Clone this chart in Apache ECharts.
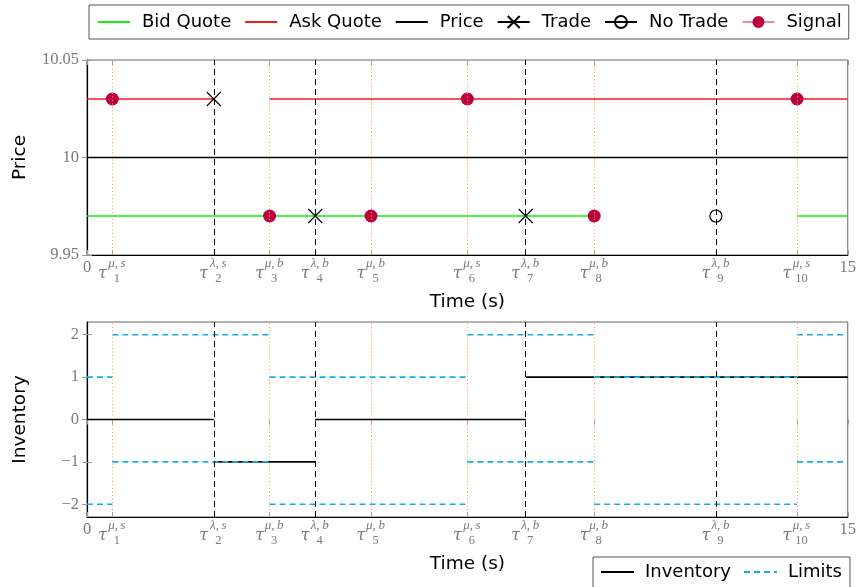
<!DOCTYPE html>
<html>
<head>
<meta charset="utf-8">
<script src="https://cdn.jsdelivr.net/npm/echarts@6/dist/echarts.min.js"></script>
<style>
  html, body { margin: 0; padding: 0; background: #fff; }
  #chart { width: 859px; height: 587px; }
</style>
</head>
<body>
<div id="chart"></div>
<script>
// ---- event times (s) and their kinds ----
const eventTimes = [0.5, 2.5, 3.6, 4.5, 5.6, 7.5, 8.65, 10.0, 12.4, 14.0];
const eventKinds = ['μ,s', 'λ,s', 'μ,b', 'λ,b', 'μ,b', 'μ,s', 'λ,b', 'μ,b', 'λ,b', 'μ,s'];
const timeMin = 0;
const timeMax = 15;

// ---- price panel ----
const priceTicks = [9.95, 10, 10.05];
const bidLevel = 9.97;
const bidSegments = [[0, 10.0], [14.0, 15]];
const askLevel = 10.03;
const askSegments = [[0, 2.5], [3.6, 15]];
const priceLevel = 10;
const priceSegments = [[0, 15]];
const tradePoints = [[2.5, 10.03], [4.5, 9.97], [8.65, 9.97]];
const noTradePoints = [[12.4, 9.97]];
const signalPoints = [[0.5, 10.03], [3.6, 9.97], [5.6, 9.97], [7.5, 10.03], [10.0, 9.97], [14.0, 10.03]];

// ---- inventory panel: [start, end, value] ----
const inventoryTicks = [-2, -1, 0, 1, 2];
const inventorySteps = [[0, 2.5, 0], [2.5, 4.5, -1], [4.5, 8.65, 0], [8.65, 15, 1]];
const upperLimitSteps = [[0, 0.5, 1], [0.5, 3.6, 2], [3.6, 7.5, 1], [7.5, 10, 2], [10, 14, 1], [14, 15, 2]];
const lowerLimitSteps = [[0, 0.5, -2], [0.5, 3.6, -1], [3.6, 7.5, -2], [7.5, 10, -1], [10, 14, -2], [14, 15, -1]];

// ---- styling ----
const SANS = 'DejaVu Sans';
const SERIF = 'Liberation Serif';
const GRAY = '#7a7a7a';
const GREEN = '#12ee12';
const RED = '#ee1d1d';
const PURPLE = '#bf0040';
const CYAN = '#13aee8';
const ORANGE = '#f5a050';
const CLEAR = 'rgba(0,0,0,0)';

const tickTimes = [timeMin].concat(eventTimes, [timeMax]);

// flat steps -> line data with gaps between the pieces
function stepsToData(steps) {
  const d = [];
  steps.forEach(([a, b, v]) => { d.push([a, v], [b, v], [b, '-']); });
  return d;
}
// separate markers that must not be joined
function isolated(points) {
  const d = [];
  points.forEach((p, i) => { if (i) d.push([p[0], '-']); d.push(p); });
  return d;
}

// τ with a stacked superscript (event kind) and subscript (event number)
const richTime = {
  g1:  { width: 9, fontSize: 16, lineHeight: 10, color: CLEAR, fontFamily: SERIF },
  sup: { width: 20, fontSize: 13, lineHeight: 10, color: GRAY, fontFamily: SERIF, fontStyle: 'italic' },
  t:   { width: 9, fontSize: 16, lineHeight: 9, color: GRAY, fontFamily: 'DejaVu Serif', fontStyle: 'italic' },
  g2:  { width: 20, fontSize: 13, lineHeight: 9, color: CLEAR, fontFamily: SERIF },
  g3:  { width: 9, fontSize: 12.5, lineHeight: 1, color: CLEAR, fontFamily: SERIF },
  sub: { width: 20, fontSize: 12.5, lineHeight: 1, color: GRAY, fontFamily: SERIF },
  n:   { fontSize: 16.5, lineHeight: 17, color: GRAY, fontFamily: SERIF }
};

function timeLabel(v) {
  const i = eventTimes.findIndex(t => Math.abs(t - v) < 1e-6);
  if (i < 0) return '{n|' + v + '}';
  const kind = eventKinds[i].replace(',', ',\u2009');
  return '{g1|x}{sup|' + kind + '}\n{t|τ}{g2|x}\n{g3|x}{sub|' + (i + 1) + '}';
}

function timeAxis(gridIndex) {
  return {
    type: 'value', gridIndex, min: timeMin, max: timeMax, position: 'bottom',
    name: 'Time (s)', nameLocation: 'middle', nameGap: 38,
    nameTextStyle: { fontFamily: SANS, fontSize: 18.5, color: '#000' },
    axisLine: { show: true, onZero: false, lineStyle: { color: '#000', width: 1.2 } },
    axisTick: { show: true, inside: true, length: 5, customValues: tickTimes, lineStyle: { color: '#999' } },
    axisLabel: { show: true, customValues: tickTimes, margin: 4, formatter: timeLabel, rich: richTime, color: GRAY },
    splitLine: { show: false }
  };
}
function mirrorTimeAxis(gridIndex) {
  return {
    type: 'value', gridIndex, min: timeMin, max: timeMax, position: 'top',
    axisLine: { show: false },
    axisTick: { show: true, inside: true, length: 5, customValues: tickTimes, lineStyle: { color: '#999' } },
    axisLabel: { show: false },
    splitLine: { show: false }
  };
}
function valueAxis(gridIndex, name, min, max, ticks, fmt) {
  return {
    type: 'value', gridIndex, min, max, position: 'left',
    name, nameLocation: 'middle', nameGap: 57,
    nameTextStyle: { fontFamily: SANS, fontSize: 18.5, color: '#000' },
    axisLine: { show: true, onZero: false, lineStyle: { color: '#000', width: 1.2 } },
    axisTick: { show: true, inside: true, length: 5, customValues: ticks, lineStyle: { color: '#999' } },
    axisLabel: { show: true, customValues: ticks, margin: 8, formatter: fmt, color: GRAY, fontFamily: SERIF, fontSize: 16.5 },
    splitLine: { show: false }
  };
}
function mirrorValueAxis(gridIndex, min, max, ticks) {
  return {
    type: 'value', gridIndex, min, max, position: 'right',
    axisLine: { show: false },
    axisTick: { show: true, inside: true, length: 5, customValues: ticks, lineStyle: { color: '#999' } },
    axisLabel: { show: false },
    splitLine: { show: false }
  };
}

// vertical guides at every event: dashed for λ, dotted for μ
function guideSeries(xi, yi) {
  return {
    type: 'line', xAxisIndex: xi, yAxisIndex: yi, data: [], z: 1, silent: true,
    markLine: {
      silent: true, symbol: ['none', 'none'], label: { show: false },
      animation: false,
      data: eventTimes.map((t, i) => ({
        xAxis: t,
        lineStyle: eventKinds[i].startsWith('λ')
          ? { color: '#000', width: 1, type: [6, 4] }
          : { color: ORANGE, width: 1, type: [1, 2.5] }
      }))
    }
  };
}

// legend entries drawn as a plain line sample (no marker)
const lineOnly = name => ({ name, itemStyle: { color: CLEAR, borderColor: CLEAR, borderWidth: 0, opacity: 0 } });

const chart = echarts.init(document.getElementById('chart'), null, { renderer: 'canvas' });

chart.setOption({
  animation: false,
  backgroundColor: '#fff',
  grid: [
    { left: 87, top: 60, width: 762, height: 195, show: true, borderColor: '#666', borderWidth: 1, containLabel: false },
    { left: 87, top: 322, width: 762, height: 195, show: true, borderColor: '#666', borderWidth: 1, containLabel: false }
  ],
  xAxis: [timeAxis(0), mirrorTimeAxis(0), timeAxis(1), mirrorTimeAxis(1)],
  yAxis: [
    valueAxis(0, 'Price', 9.95, 10.05, priceTicks, v => String(Number(v.toFixed(2)))),
    mirrorValueAxis(0, 9.95, 10.05, priceTicks),
    valueAxis(1, 'Inventory', -2.3, 2.3, inventoryTicks, v => (v < 0 ? '\u2212' + (-v) : String(v))),
    mirrorValueAxis(1, -2.3, 2.3, inventoryTicks)
  ],
  legend: [
    {
      left: 89, top: 5, itemWidth: 32, itemHeight: 15, itemGap: 13,
      padding: [8, 7, 8, 8], borderColor: '#555', borderWidth: 1, selectedMode: false,
      textStyle: { fontFamily: SANS, fontSize: 18, color: '#000', padding: [0, 0, 0, 7] },
      data: [lineOnly('Bid Quote'), lineOnly('Ask Quote'), lineOnly('Price'), 'Trade', 'No Trade', 'Signal']
    },
    {
      left: 593, top: 557, itemWidth: 33, itemHeight: 15, itemGap: 12,
      padding: [6, 8, 12, 7], borderColor: '#555', borderWidth: 1, selectedMode: false,
      textStyle: { fontFamily: SANS, fontSize: 18, color: '#000', padding: [0, 0, 0, 6] },
      data: [lineOnly('Inventory'), lineOnly('Limits')]
    }
  ],
  series: [
    guideSeries(0, 0),
    {
      name: 'Bid Quote', type: 'line', xAxisIndex: 0, yAxisIndex: 0, symbol: 'none', z: 2,
      lineStyle: { color: GREEN, width: 1.6 }, itemStyle: { color: GREEN },
      data: stepsToData(bidSegments.map(s => [s[0], s[1], bidLevel]))
    },
    {
      name: 'Ask Quote', type: 'line', xAxisIndex: 0, yAxisIndex: 0, symbol: 'none', z: 2,
      lineStyle: { color: RED, width: 1.6 }, itemStyle: { color: RED },
      data: stepsToData(askSegments.map(s => [s[0], s[1], askLevel]))
    },
    {
      name: 'Price', type: 'line', xAxisIndex: 0, yAxisIndex: 0, symbol: 'none', z: 2,
      lineStyle: { color: '#000', width: 1.6 }, itemStyle: { color: '#000' },
      data: stepsToData(priceSegments.map(s => [s[0], s[1], priceLevel]))
    },
    {
      name: 'Trade', type: 'line', xAxisIndex: 0, yAxisIndex: 0, z: 3,
      symbol: 'path://M0,0L10,10M10,0L0,10', symbolSize: 14, showSymbol: true,
      lineStyle: { color: '#000', width: 1 },
      itemStyle: { color: '#000', borderColor: '#000', borderWidth: 1.1 },
      data: isolated(tradePoints)
    },
    {
      name: 'No Trade', type: 'line', xAxisIndex: 0, yAxisIndex: 0, z: 3,
      symbol: 'circle', symbolSize: 12, showSymbol: true,
      lineStyle: { color: '#000', width: 1 },
      itemStyle: { color: CLEAR, borderColor: '#000', borderWidth: 1.2 },
      data: isolated(noTradePoints)
    },
    {
      name: 'Signal', type: 'line', xAxisIndex: 0, yAxisIndex: 0, z: 4,
      symbol: 'circle', symbolSize: 13, showSymbol: true,
      lineStyle: { color: 'rgba(191,0,64,0.45)', width: 1.6 },
      itemStyle: { color: PURPLE, borderWidth: 0 },
      data: isolated(signalPoints)
    },
    guideSeries(2, 2),
    {
      name: 'Inventory', type: 'line', xAxisIndex: 2, yAxisIndex: 2, symbol: 'none', z: 2,
      lineStyle: { color: '#000', width: 1.6 }, itemStyle: { color: '#000' },
      data: stepsToData(inventorySteps)
    },
    {
      name: 'Limits', type: 'line', xAxisIndex: 2, yAxisIndex: 2, symbol: 'none', z: 3,
      lineStyle: { color: CYAN, width: 1.6, type: [6, 4] }, itemStyle: { color: CYAN },
      data: stepsToData(upperLimitSteps)
    },
    {
      name: 'Limits', type: 'line', xAxisIndex: 2, yAxisIndex: 2, symbol: 'none', z: 3,
      lineStyle: { color: CYAN, width: 1.6, type: [6, 4] }, itemStyle: { color: CYAN },
      data: stepsToData(lowerLimitSteps)
    }
  ]
});
</script>
</body>
</html>
